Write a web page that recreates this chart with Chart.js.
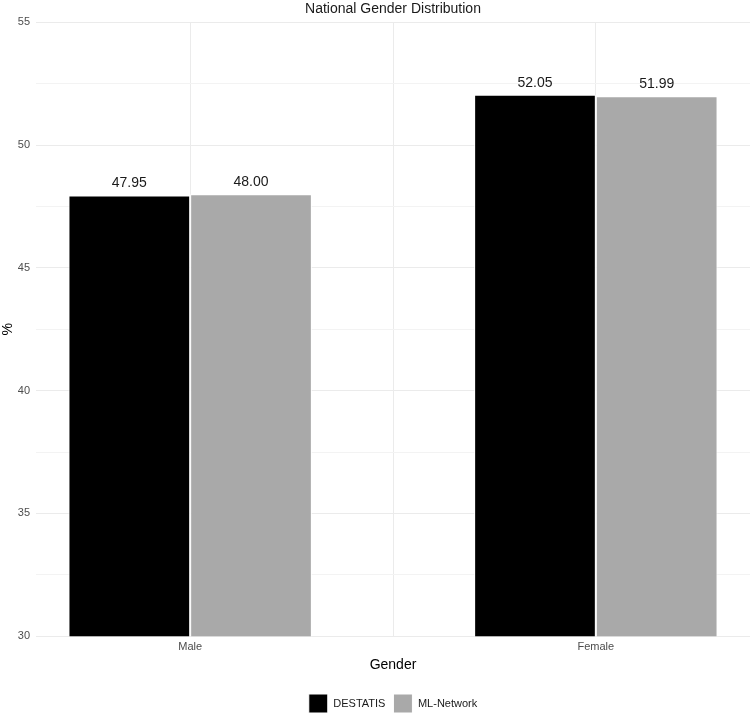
<!DOCTYPE html>
<html><head><meta charset="utf-8">
<script src="https://cdn.jsdelivr.net/npm/chart.js@4"></script>
<style>html,body{margin:0;padding:0;background:#fff;overflow:hidden}canvas{display:block}</style>
</head><body>
<canvas id="c" width="750" height="713"></canvas>
<script>
const categories = ['Male', 'Female'];
const categoryPositions = [1, 2];
const seriesNames = ['DESTATIS', 'ML-Network'];
const destatis = [47.95, 52.05];
const mlNetwork = [48.00, 51.99];
const yTickLabels = [30, 35, 40, 45, 50, 55];

Chart.defaults.font.family = '"Liberation Sans", Arial, Helvetica, sans-serif';

const toPoints = vals => vals.map((v, i) => ({ x: categoryPositions[i], y: v }));

const valueLabels = {
  id: 'valueLabels',
  afterDatasetsDraw(chart) {
    const ctx = chart.ctx;
    ctx.save();
    ctx.font = '14px "Liberation Sans", Arial, sans-serif';
    ctx.fillStyle = '#1a1a1a';
    ctx.textAlign = 'center';
    ctx.textBaseline = 'alphabetic';
    chart.data.datasets.forEach((ds, di) => {
      const meta = chart.getDatasetMeta(di);
      meta.data.forEach((el, i) => {
        ctx.fillText(ds.data[i].y.toFixed(2), el.x, el.y - 8);
      });
    });
    ctx.restore();
  }
};

new Chart(document.getElementById('c'), {
  type: 'bar',
  data: {
    datasets: [
      { label: seriesNames[0], data: toPoints(destatis), backgroundColor: '#000000', borderColor: '#ffffff', borderWidth: 1, borderSkipped: false },
      { label: seriesNames[1], data: toPoints(mlNetwork), backgroundColor: '#A9A9A9', borderColor: '#ffffff', borderWidth: 1, borderSkipped: false }
    ]
  },
  options: {
    responsive: false,
    animation: false,
    categoryPercentage: 1.2,
    barPercentage: 1.0,
    layout: { padding: { top: 0, left: 0, right: 0, bottom: -10 } },
    plugins: {
      title: {
        display: true, text: 'National Gender Distribution', fullSize: false,
        color: '#1a1a1a', font: { size: 14, weight: 'normal' },
        padding: { top: 1, bottom: 4.5 }
      },
      legend: {
        position: 'bottom', fullSize: false,
        labels: { boxWidth: 19, boxHeight: 19, color: '#1a1a1a', font: { size: 11 }, padding: 8 }
      },
      tooltip: { enabled: false }
    },
    scales: {
      x: {
        type: 'linear', min: 0.62, max: 2.38, offset: false,
        afterBuildTicks(scale) { scale.ticks = [1, 1.5, 2].map(v => ({ value: v })); },
        ticks: {
          color: '#4d4d4d', font: { size: 11, lineHeight: 1 }, padding: 5, autoSkip: false, maxRotation: 0,
          callback(v) { const i = categoryPositions.indexOf(v); return i >= 0 ? categories[i] : ''; }
        },
        grid: { color: '#ebebeb', drawTicks: false, offset: false },
        border: { display: false },
        title: { display: true, text: 'Gender', color: '#000', font: { size: 14 }, padding: { top: 0, bottom: 12 } }
      },
      y: {
        min: 30, max: 55,
        afterFit(scale) { scale.width = 36; },
        ticks: {
          stepSize: 2.5, color: '#4d4d4d', font: { size: 11 }, padding: 6,
          callback(v) { return yTickLabels.includes(v) ? String(v) : ''; }
        },
        grid: {
          drawTicks: false,
          color(ctx) { return ctx.tick && yTickLabels.includes(ctx.tick.value) ? '#ebebeb' : '#f3f3f3'; }
        },
        border: { display: false },
        title: { display: true, text: '%', color: '#000', font: { size: 14 }, padding: 0 }
      }
    }
  },
  plugins: [valueLabels]
});
</script>
</body></html>
